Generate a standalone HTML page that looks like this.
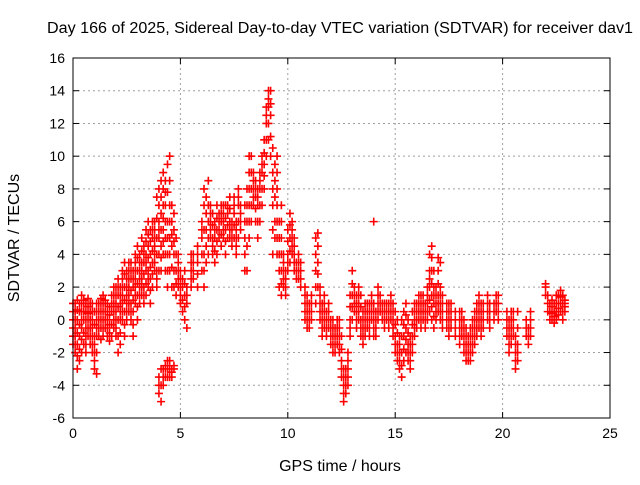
<!DOCTYPE html>
<html><head><meta charset="utf-8"><style>
body{margin:0;background:#fff}
svg text{font-family:"Liberation Sans",sans-serif}
</style></head><body>
<svg id="chart" width="640" height="480" xmlns="http://www.w3.org/2000/svg">
<rect width="640" height="480" fill="#fff"/>
<text x="340" y="33" text-anchor="middle" font-size="15.5" textLength="586" lengthAdjust="spacingAndGlyphs">Day 166 of 2025, Sidereal Day-to-day VTEC variation (SDTVAR) for receiver dav1</text>
<g id="grid"></g>
<g id="ticks"></g>
<g id="marks"></g>
<rect x="73" y="58" width="537" height="360" fill="none" stroke="#000" stroke-width="1"/>
<text x="340" y="471" text-anchor="middle" font-size="16">GPS time / hours</text>
<text transform="translate(19,238) rotate(-90)" text-anchor="middle" font-size="16">SDTVAR / TECUs</text>
</svg>
<script>
const xTicks=[0,5,10,15,20,25];
const yTicks=[-6,-4,-2,0,2,4,6,8,10,12,14,16];
const times=[0.0,0.1,0.2,0.3,0.4,0.5,0.6,0.7,0.8,0.9,1.0,1.1,1.2,1.3,1.4,1.5,1.6,1.7,1.8,1.9,2.0,2.1,2.2,2.3,2.4,2.5,2.6,2.7,2.8,2.9,3.0,3.1,3.2,3.3,3.4,3.5,3.6,3.7,3.8,3.9,4.0,4.1,4.2,4.3,4.4,4.5,4.6,4.7,4.8,4.9,5.0,5.1,5.2,5.3,5.5,5.6,5.8,6.0,6.1,6.2,6.3,6.4,6.5,6.6,6.7,6.8,6.9,7.0,7.1,7.2,7.3,7.4,7.5,7.6,7.7,7.8,8.0,8.1,8.2,8.3,8.4,8.5,8.6,8.7,8.8,8.9,9.0,9.1,9.2,9.3,9.4,9.5,9.6,9.7,9.8,9.9,10.0,10.1,10.2,10.3,10.4,10.5,10.6,10.8,10.9,11.0,11.1,11.3,11.4,11.5,11.6,11.7,11.8,11.9,12.0,12.1,12.2,12.3,12.4,12.5,12.6,12.7,12.8,12.9,13.0,13.1,13.2,13.3,13.4,13.5,13.6,13.7,13.8,13.9,14.0,14.1,14.2,14.3,14.4,14.5,14.6,14.7,14.8,14.9,15.0,15.1,15.2,15.3,15.4,15.5,15.6,15.7,15.8,15.9,16.0,16.1,16.2,16.3,16.4,16.5,16.6,16.7,16.8,16.9,17.0,17.1,17.2,17.4,17.5,17.6,17.8,18.0,18.1,18.2,18.3,18.4,18.5,18.6,18.7,18.8,18.9,19.0,19.1,19.3,19.4,19.6,19.7,19.8,20.2,20.3,20.4,20.5,20.6,20.7,21.1,21.2,21.3,22.0,22.1,22.2,22.3,22.4,22.5,22.6,22.7,22.8,22.9];
const values=[
[-1.5,-1,-0.5,0,0.5,1],[-2,-1.5,-1,-0.5,0,0.5,1],[-3,-2.2,-1.5,-0.8,0,0.6,1.2],[-2.5,-1.8,-1,-0.3,0.5,1],[-2,-1.2,-0.5,0,0.5,1,1.5],[-1.5,-0.8,0,0.5,1,1.2],[-2,-1.5,-1,-0.5,0,0.5,1],[-1,-0.5,0,0.4,0.8,1.3],[-1.5,-1,-0.5,0,0.5,1],[-2,-1.5,-1,-0.5,0,0.5,1],
[-3,-2.5,-2,-1.5,-1,-0.3,0.5],[-3.3,-2,-1,-0.5,0,0.5,1],[-1,-0.5,0,0.5,1],[-1.2,-0.5,0,0.5,1,1.3],[-1,-0.5,0,0.5,1,1.5],[-0.5,0,0.5,1,1.2],[-1,-0.5,0,0.5,1],[-1.3,-0.8,-0.3,0.3,0.8],[-1,-0.3,0.5,1,1.5],[-0.5,0,0.5,1,1.5,2],
[-1,-0.5,0,0.5,1,1.5,2],[-2,-1,0,0.8,1.5,2,2.5],[-1.5,-0.8,0,0.5,1,1.5,2],[0,0.5,1,1.5,2,2.5,3],[-1,-0.3,0.5,1.2,2,2.8,3.5],[0,0.5,1,1.5,2,2.5,3],[0.5,1,1.5,2,2.5,3,3.5],[0,0.5,1,1.8,2.5,3,3.5],[-1,-0.3,0.5,1.2,2,2.5,3],[1,1.5,2,2.5,3,3.5,4],
[0,0.8,1.5,2.2,3,3.8,4.5],[1,1.5,2,2.5,3,3.5,4],[1.5,2,2.5,3,3.5,4.2,5],[1,1.5,2,2.8,3.5,4,4.5],[1.5,2.2,3,3.5,4,4.8,5.5],[2,2.5,3,3.8,4.5,5.2,6],[1,1.8,2.5,3.2,4,4.8,5.5],[2,2.8,3.5,4.2,5,5.5,6],[3,3.5,4,4.5,5,5.5,6],[2,2.5,3,4,5,6.2,7.5],
[3,4,5,5.5,6,7,8,-4.5,-4,-3.5],[3,3.8,4.5,5.5,6.5,7.5,8.5,-5,-4,-3],[4,4.8,5.5,6.2,7,8,9,-4,-3.5,-3],[3,4,5,6,7,7.8,8.5,-3.5,-3,-2.8],[2,3,4,5,6,7.8,9.5,-3.5,-3,-2.5],[3,4,5,6,7,8.5,10,-3,-2.5,-3.5],[2,3.2,4.5,5.2,6,7,-3,-3.5,-3.2],[2,3,4,4.8,5.5,6.5,-3,-2.8],[1.5,2.2,3,4,5],[2,2.5,3,3.5,4],
[1,1.5,2,2.5,3],[0.5,1.2,2,2.5],[0,0.8,1.5,2.2,3],[1,1.5,2,-0.5],[2,2.5,3,3.5,4],[2.5,3,3.5,4],[2,2.8,3.5,4,4.5],[3,4,5,5.5,6],[2,3,4,5.5,7,8],[3.5,4.5,5.5,6.5,7.5],
[4,5,6,7,8.5],[5,5.5,6,6.5,7],[4,4.5,5,5.8,6.5],[3.5,4.2,5,5.5,6],[4,4.8,5.5,6.2,7],[5,5.5,6,6.5],[4.5,5.2,6,6.5,7],[5,5.5,6,6.5,7],[4,4.8,5.5,6.2,7],[5,5.8,6.5,7],
[5,5.5,6,6.8,7.5],[4.5,5,5.5,6],[5,5.8,6.5,7,7.5],[4,4.5,5,5.5,6],[5,6,7,7.5,8],[5.5,6,6.5,7],[3,4,5,6,7],[3,4.5,6,7,8],[5,6,7,8,9,10],[6,7,8,9,10],
[7,7.5,8,8.5,9],[6,6.8,7.5,8,8.5],[5,6,7,7.5,8],[6,7,8,8.5,9],[7,8,9,9.5,10],[8,8.8,9.5,10.2,11],[10,11,12,12.5,13],[11,12,13,13.5,14],[10,11.2,12.5,13.2,14],[4,5.5,7,8,9,10.5],
[5,6,7.5,8.5,9.5],[4,5,6,7,8,9,10],[2,3,4,5,6],[1.5,2.2,3,4,5,6,7],[2,2.5,3,3.5,4],[1.5,2,2.5,3],[3,3.5,4,4.8,5.5],[3.5,4.2,5,5.8,6.5],[4,4.5,5,5.5,6],[3,3.5,4,4.5,5],
[2.5,3,3.5],[2.5,3,3.5,4],[2,2.5,3,3.5],[0,0.5,1,1.5,2],[-0.5,0,0.5,1,1.5],[-0.5,0,0.5,1],[0,0.5,1,1.5],[1,2,3,4,5],[2,2.8,3.5,4.5,5.3],[0,0.5,1,1.5,2],
[-1,-0.5,0,0.5,1],[-0.5,0,0.5,1,1.5],[-1,-0.5,0,0.5],[-0.5,0,0.5,1],[-1.5,-1,-0.5,0],[-2,-1.5,-1,-0.5,0],[-2,-1.5,-1,-0.5],[-1.5,-1,-0.5,0],[-2,-1.5,-1,-0.5,0],[-3.5,-3,-2.5,-1.8,-1],
[-5,-4.5,-4,-3.5,-3],[-4.5,-4,-3.5,-3],[-4,-3.5,-3,-2.5,-2],[-1,-0.5,0,0.8,1.5],[0,0.8,1.5,2.2,3],[0.5,1,1.5,2],[-0.5,0,0.5,1,1.5],[0,0.5,1,1.5,2],[-1,-0.5,0,0.8,1.5],[-1.5,-1,-0.5,0,0.5],
[-1,-0.5,0,0.5,1],[-0.5,0,0.5,1],[-1,-0.5,0,0.5,1],[0,0.5,1,1.5],[-1,-0.5,0,0.5,1,6],[-1,-0.5,0,0.5],[0,0.5,1,1.5,2],[0.5,1,1.5],[0,0.5,1],[-0.5,0,0.5,1],
[0,0.5,1],[-0.5,0,0.5,1],[0,0.5,1,1.5],[-1,-0.5,0,0.5,1],[-2,-1.5,-1,-0.3,0.5],[-2.5,-2,-1.5,-0.8,0],[-3,-2.5,-2,-1.5,-1],[-3.5,-2.8,-2,-1,0],[-2.5,-1.8,-1,-0.3,0.5],[-2,-1.2,-0.5,0.3,1],
[-2.5,-2,-1.5,-0.8,0],[-3,-2.5,-2,-1.5,-1],[-2,-1.5,-1,-0.3,0.5],[-1,-0.5,0,0.5,1],[-0.5,0,0.5,1],[0,0.5,1,1.5],[-0.5,0,0.5,1,1.5],[0,0.5,1,1.5],[-0.5,0,0.5,1],[0,0.5,1,1.5,2],
[0.5,1.2,2,2.5,3,4],[0,0.8,1.5,2.2,3,3.8,4.5],[-0.5,0.2,1,1.5,2,3],[0,0.5,1,1.5,2],[0.5,1,1.5,2.2,3,3.8],[0,0.5,1,1.5,2,3.5],[-0.5,0,0.5,1,1.5],[-0.5,0,0.5,1],[-1,-0.5,0,0.5,1],[-0.5,0,0.5,1],
[-1,-0.5,0,0.5],[-1.5,-1,-0.5,0,0.5],[-1,-0.5,0,0.5],[-2,-1.5,-1,-0.5,0],[-2.5,-2,-1.5,-1,-0.5],[-2.5,-2,-1.5,-1],[-2.5,-2,-1.5,-1,-0.5],[-2,-1.5,-1,-0.5,0],[-1.5,-1,-0.5,0,0.5],[-1,-0.5,0,0.5,1],
[-0.5,0,0.5,1,1.5],[-1,-0.5,0,0.5,1],[-0.5,0,0.5,1],[0,0.5,1,1.5],[-0.5,0,0.5,1],[0,0.5,1],[0.5,1,1.5],[0,0.5,1,1.5],[-1,-0.5,0,0.5],[-2,-1.5,-1,-0.5,0],
[-1.5,-1,-0.5,0,0.5],[-1,-0.5,0,0.5],[-3,-2.5,-2,-1.5,-1],[-2.5,-2,-1.5,-0.5,0.5],[-1,-0.5,0],[-1.5,-1,-0.5],[-1,-0.5,0,0.5],[1.5,2,2.2],[0.5,1,1.5],[0,0.5,1],
[0,0.4,0.8,1.2],[-0.2,0.2,0.5,1],[0,0.5,1,1.5],[0.3,0.7,1,1.5],[0.5,1,1.4,1.8],[0,0.5,1,1.5],[0.5,0.8,1,1.2]
];
const X0=73,X1=610,Y0=418,Y1=58;
const xs=v=>X0+(v-0)/(25-0)*(X1-X0);
const ys=v=>Y0-(v+6)/(16+6)*(Y0-Y1);
const NS='http://www.w3.org/2000/svg';
const grid=document.getElementById('grid'),ticks=document.getElementById('ticks'),marks=document.getElementById('marks');
function mk(tag,attrs,parent){const e=document.createElementNS(NS,tag);for(const k in attrs)e.setAttribute(k,attrs[k]);parent.appendChild(e);return e;}
xTicks.forEach(t=>{
  const x=xs(t);
  if(t>0&&t<25){const g=mk('line',{x1:x,x2:x,y1:Y1,y2:Y0,stroke:'#a0a0a0','stroke-dasharray':'2,3'},grid);
  
  }
  mk('line',{x1:x,x2:x,y1:Y0,y2:Y0-6,stroke:'#000'},ticks);
  mk('line',{x1:x,x2:x,y1:Y1,y2:Y1+6,stroke:'#000'},ticks);
  const l=mk('text',{x:x,y:Y0+20,'text-anchor':'middle','font-size':'14'},ticks);
  l.textContent=t;
  
  
});
yTicks.forEach(t=>{
  const y=ys(t);
  if(t>-6&&t<16){const g=mk('line',{x1:X0,x2:X1,y1:y,y2:y,stroke:'#a0a0a0','stroke-dasharray':'2,3'},grid);
  
  }
  mk('line',{x1:X0,x2:X0+6,y1:y,y2:y,stroke:'#000'},ticks);
  mk('line',{x1:X1,x2:X1-6,y1:y,y2:y,stroke:'#000'},ticks);
  const l=mk('text',{x:X0-8,y:y+5,'text-anchor':'end','font-size':'14'},ticks);
  l.textContent=t;
  
  
});
let d='';
times.forEach((t,i)=>{
  values[i].forEach(v=>{
    const x=xs(t),y=ys(v);
    d+=`M${x-4},${y}h8M${x},${y-4}v8`;
  });
});
const p=mk('path',{d:d,stroke:'#ff0000','stroke-width':'1.6',fill:'none'},marks);


</script>
</body></html>
